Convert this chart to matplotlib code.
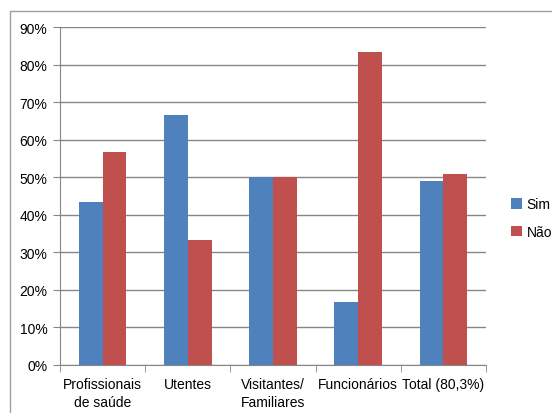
import matplotlib.pyplot as plt
import numpy as np
from matplotlib.patches import Rectangle
from matplotlib.ticker import FuncFormatter, FixedLocator

categorias = ["Profissionais\nde saúde", "Utentes", "Visitantes/\nFamiliares",
              "Funcionários", "Total (80,3%)"]
sim = [43.3, 66.7, 50.0, 16.7, 49.1]
nao = [56.7, 33.3, 50.0, 83.3, 50.9]

plt.rcParams["font.family"] = ["Liberation Sans", "DejaVu Sans"]

fig = plt.figure(figsize=(5.52, 4.14), dpi=100)
ax = fig.add_axes([0.1087, 0.116, 0.7717, 0.816])

# moldura da área do gráfico
fig.patches.append(Rectangle((10 / 552, -0.05), 1.1, 1 - 12 / 414 + 0.05,
                             transform=fig.transFigure, fill=False,
                             edgecolor="#a0a0a0", linewidth=1.0))

x = np.arange(len(categorias))
w = 0.28
ax.bar(x - w / 2, sim, w, color="#4F81BD", label="Sim", zorder=3)
ax.bar(x + w / 2, nao, w, color="#C0504D", label="Não", zorder=3)

ax.set_xlim(-0.5, len(categorias) - 0.5)
ax.set_ylim(0, 90)
ax.set_yticks(np.arange(0, 91, 10))
ax.yaxis.set_major_formatter(FuncFormatter(lambda v, p: f"{v:.0f}%"))
ax.yaxis.grid(True, color="#868686", linewidth=1.0, zorder=0)

ax.set_xticks(x)
ax.set_xticklabels(categorias, linespacing=1.3)
ax.xaxis.set_minor_locator(FixedLocator(np.arange(-0.5, len(categorias), 1)))
ax.tick_params(axis="x", which="major", length=0, pad=9, labelsize=10)
ax.tick_params(axis="x", which="minor", length=5, color="#868686")
ax.tick_params(axis="y", length=5, color="#868686", labelsize=10, pad=4)

for s in ["top", "right"]:
    ax.spines[s].set_visible(False)
for s in ["left", "bottom"]:
    ax.spines[s].set_color("#868686")

ax.legend(loc="center left", bbox_to_anchor=(1.03, 0.435), frameon=False,
          fontsize=10, handlelength=0.8, handleheight=0.8,
          handletextpad=0.3, labelspacing=1.0)

fig.savefig("out.png", dpi=100)
